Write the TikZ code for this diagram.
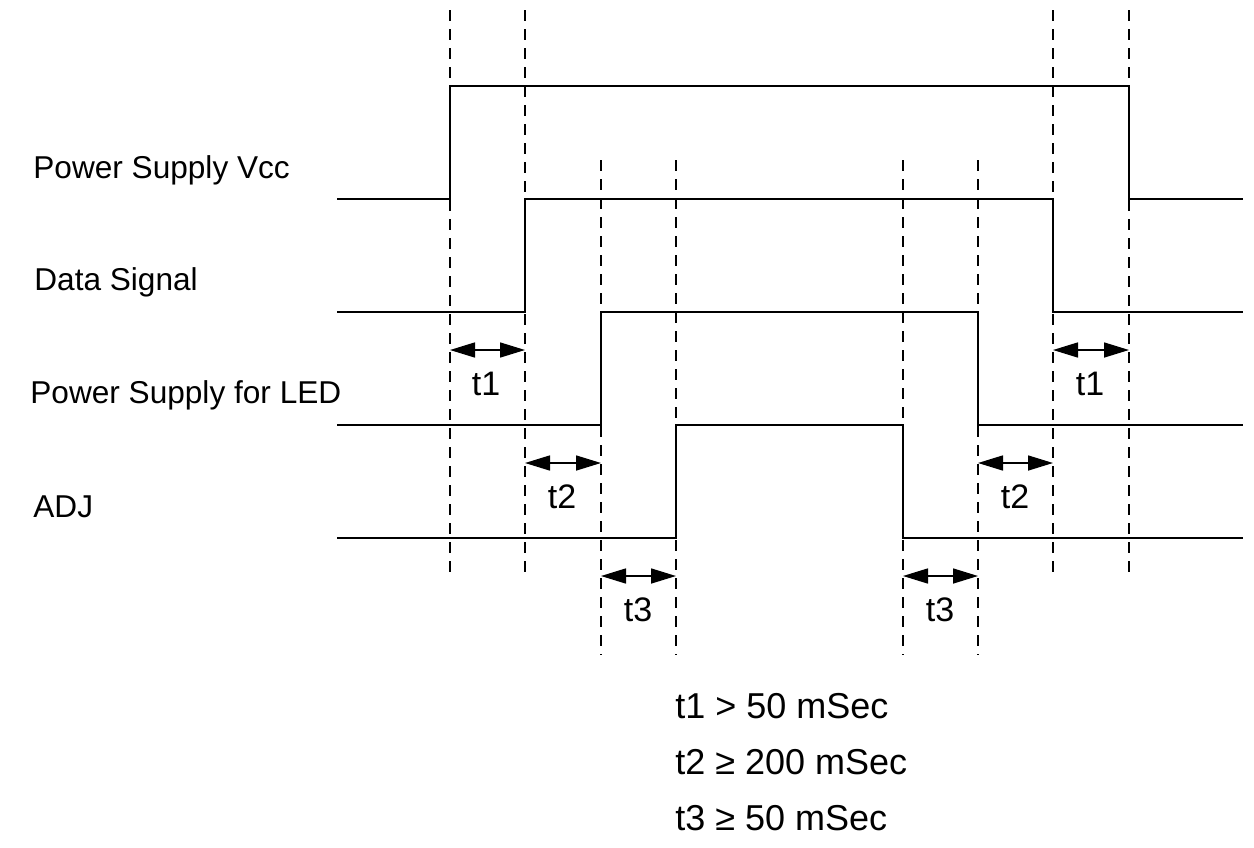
\documentclass[tikz,border=0pt]{standalone}
\usepackage{fontspec}
\setmainfont{Liberation Sans}
\usetikzlibrary{arrows.meta}
\begin{document}
\begin{tikzpicture}[x=0.5pt,y=-0.5pt,
  sig/.style={line width=1pt, line join=miter},
  guide/.style={line width=0.8pt, dash pattern=on 5.5pt off 4pt},
  dim/.style={line width=0.8pt, {Triangle[length=12.5pt,width=7.5pt]}-{Triangle[length=12.5pt,width=7.5pt]}},
  lbl/.style={anchor=base west, inner sep=0pt, font=\fontsize{15.8}{18}\selectfont},
  tl/.style={anchor=base, inner sep=0pt, font=\fontsize{17}{20}\selectfont},
  note/.style={anchor=base west, inner sep=0pt, font=\fontsize{18}{21}\selectfont}]
\useasboundingbox (0,0) rectangle (1254,847);
\fill[white] (0,0) rectangle (1254,847);

% guide lines
\foreach \x/\n in {450/a,525/b,1053/g,1129/h}{
  \coordinate (g\n top) at (\x,10);
  \coordinate (g\n bot) at (\x,577);
  \draw[guide] (g\n top) -- (g\n bot);
}
\foreach \x/\n in {601/c,676/d,903/e,978/f}{
  \coordinate (g\n top) at (\x,160);
  \coordinate (g\n bot) at (\x,655);
  \draw[guide] (g\n top) -- (g\n bot);
}

% signals
\draw[sig] (337,199) -- (450,199) -- (450,86) -- (1129,86) -- (1129,199) -- (1243,199);
\draw[sig] (337,312) -- (525,312) -- (525,199) -- (1053,199) -- (1053,312) -- (1243,312);
\draw[sig] (337,425) -- (601,425) -- (601,312) -- (978,312) -- (978,425) -- (1243,425);
\draw[sig] (337,538) -- (676,538) -- (676,425) -- (903,425) -- (903,538) -- (1243,538);

% signal labels
\node[lbl] (lvcc) at (33,178) {Power Supply Vcc};
\node[lbl] (ldata) at (34,290) {Data Signal};
\node[lbl] (lled) at (30,403) {Power Supply for LED};
\node[lbl] (ladj) at (33,517) {ADJ};

% dimension arrows
\coordinate (t1aL) at (450,350); \coordinate (t1aR) at (525,350);
\coordinate (t1bL) at (1053,350); \coordinate (t1bR) at (1129,350);
\coordinate (t2aL) at (525,463); \coordinate (t2aR) at (601,463);
\coordinate (t2bL) at (978,463); \coordinate (t2bR) at (1053,463);
\coordinate (t3aL) at (601,576); \coordinate (t3aR) at (676,576);
\coordinate (t3bL) at (903,576); \coordinate (t3bR) at (978,576);
\draw[dim] (t1aL) -- (t1aR);
\draw[dim] (t1bL) -- (t1bR);
\draw[dim] (t2aL) -- (t2aR);
\draw[dim] (t2bL) -- (t2bR);
\draw[dim] (t3aL) -- (t3aR);
\draw[dim] (t3bL) -- (t3bR);

\node[tl] (n1a) at (486,395) {t1};
\node[tl] (n1b) at (1090,395) {t1};
\node[tl] (n2a) at (562,508) {t2};
\node[tl] (n2b) at (1015,508) {t2};
\node[tl] (n3a) at (638,621) {t3};
\node[tl] (n3b) at (940,621) {t3};

% notes
\node[note] (c1) at (675,718) {t1 > 50 mSec};
\node[note] (c2) at (675,774) {t2 ≥ 200 mSec};
\node[note] (c3) at (675,830) {t3 ≥ 50 mSec};
\end{tikzpicture}
\end{document}
